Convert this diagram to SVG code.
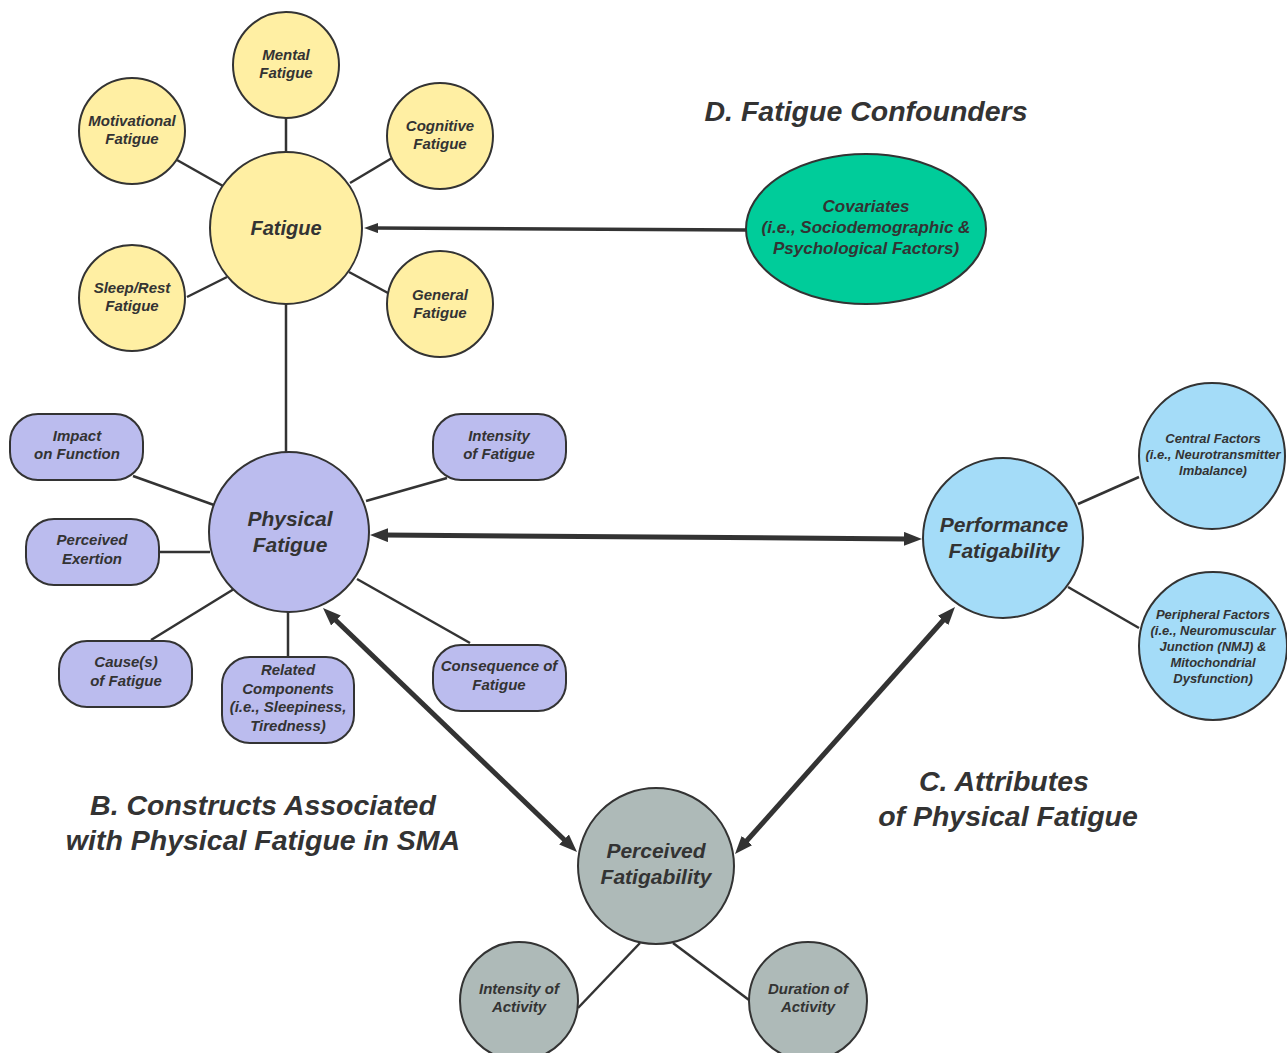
<svg xmlns="http://www.w3.org/2000/svg" width="1287" height="1053" viewBox="0 0 1287 1053">
<defs>
<style>
.nd{stroke:#333;stroke-width:2}
.y{fill:#FFEFA3}.p{fill:#BBBCEE}.b{fill:#A4DCF8}.g{fill:#AEBAB8}.t{fill:#00CC9A}
text{font-family:"Liberation Sans",Arial,sans-serif;font-weight:bold;font-style:italic;fill:#333;text-anchor:middle;dominant-baseline:central}
.s{font-size:15px}.l{font-size:21px}.xs{font-size:13px}.h{font-size:28.5px}.c{font-size:17px}
.ln{stroke:#333;stroke-width:2.5;fill:none}
.ar{stroke:#333;stroke-width:5;fill:none}
</style>
<marker id="ah" markerUnits="userSpaceOnUse" viewBox="0 0 18 14" markerWidth="18" markerHeight="14" refX="4" refY="7" orient="auto-start-reverse"><path d="M0,0 L18,7 L0,14 z" fill="#333"/></marker>
<marker id="ahs" markerUnits="userSpaceOnUse" viewBox="0 0 14 10" markerWidth="14" markerHeight="10" refX="3" refY="5" orient="auto-start-reverse"><path d="M0,0 L14,5 L0,10 z" fill="#333"/></marker>
</defs>
<rect width="1287" height="1053" fill="#fff"/>

<g id="connectors">
<line class="ln" x1="286" y1="117" x2="286" y2="152"/>
<line class="ln" x1="177" y1="160" x2="223" y2="186"/>
<line class="ln" x1="350" y1="183" x2="392" y2="158"/>
<line class="ln" x1="187" y1="297" x2="227" y2="277"/>
<line class="ln" x1="349" y1="272" x2="388" y2="293"/>
<line class="ln" x1="286" y1="304" x2="286" y2="452"/>
<line class="ln" x1="133" y1="476" x2="214" y2="505"/>
<line class="ln" x1="447" y1="478" x2="366" y2="501"/>
<line class="ln" x1="159" y1="552" x2="210" y2="552"/>
<line class="ln" x1="151" y1="640" x2="234" y2="589"/>
<line class="ln" x1="288" y1="657" x2="288" y2="612"/>
<line class="ln" x1="470" y1="643" x2="357" y2="579"/>
<line class="ln" x1="1078" y1="504" x2="1139" y2="477"/>
<line class="ln" x1="1068" y1="587" x2="1139" y2="628"/>
<line class="ln" x1="640" y1="943" x2="578" y2="1008"/>
<line class="ln" x1="673" y1="943" x2="749" y2="1000"/>
<line stroke="#333" stroke-width="3.5" x1="746" y1="230" x2="375" y2="228.1" marker-end="url(#ahs)"/>
<line class="ar" x1="384" y1="535.1" x2="908" y2="538.9" marker-start="url(#ah)" marker-end="url(#ah)"/>
<line class="ar" x1="333.1" y1="617.7" x2="566.9" y2="842.3" marker-start="url(#ah)" marker-end="url(#ah)"/>
<line class="ar" x1="945.7" y1="617.5" x2="744.3" y2="843.5" marker-start="url(#ah)" marker-end="url(#ah)"/>
</g>

<g id="title-d"><text class="h" x="866" y="111">D. Fatigue Confounders</text></g>
<g id="title-b"><text class="h" x="263" y="805">B. Constructs Associated</text><text class="h" x="263" y="840">with Physical Fatigue in SMA</text></g>
<g id="title-c"><text class="h" x="1004" y="781">C. Attributes</text><text class="h" x="1008" y="816">of Physical Fatigue</text></g>

<g id="fatigue"><circle class="nd y" cx="286" cy="228" r="76"/><text x="286" y="228" style="font-size:20px">Fatigue</text></g>
<g id="mental"><circle class="nd y" cx="286" cy="65" r="53"/><text class="s" x="286" y="54">Mental</text><text class="s" x="286" y="72">Fatigue</text></g>
<g id="motivational"><circle class="nd y" cx="132" cy="131" r="53"/><text class="s" x="132" y="120">Motivational</text><text class="s" x="132" y="138">Fatigue</text></g>
<g id="cognitive"><circle class="nd y" cx="440" cy="136" r="53"/><text class="s" x="440" y="125">Cognitive</text><text class="s" x="440" y="143">Fatigue</text></g>
<g id="sleep"><circle class="nd y" cx="132" cy="298" r="53"/><text class="s" x="132" y="287">Sleep/Rest</text><text class="s" x="132" y="305">Fatigue</text></g>
<g id="general"><circle class="nd y" cx="440" cy="304" r="53"/><text class="s" x="440" y="294">General</text><text class="s" x="440" y="312">Fatigue</text></g>

<g id="covariates"><ellipse class="nd t" cx="866" cy="229" rx="120" ry="75"/><text class="c" x="866" y="206">Covariates</text><text class="c" x="866" y="227">(i.e., Sociodemographic &amp;</text><text class="c" x="866" y="248">Psychological Factors)</text></g>

<g id="physical"><circle class="nd p" cx="289" cy="532" r="80"/><text class="l" x="290" y="518">Physical</text><text class="l" x="290" y="544">Fatigue</text></g>
<g id="impact"><rect class="nd p" x="10" y="414" width="133" height="66" rx="28"/><text class="s" x="77" y="435">Impact</text><text class="s" x="77" y="453">on Function</text></g>
<g id="intensity-fatigue"><rect class="nd p" x="433" y="414" width="133" height="66" rx="28"/><text class="s" x="499" y="435">Intensity</text><text class="s" x="499" y="453">of Fatigue</text></g>
<g id="exertion"><rect class="nd p" x="26" y="519" width="133" height="66" rx="28"/><text class="s" x="92" y="539">Perceived</text><text class="s" x="92" y="558">Exertion</text></g>
<g id="causes"><rect class="nd p" x="59" y="641" width="133" height="66" rx="28"/><text class="s" x="126" y="661">Cause(s)</text><text class="s" x="126" y="680">of Fatigue</text></g>
<g id="related"><rect class="nd p" x="222" y="657" width="132" height="86" rx="28"/><text class="s" x="288" y="669">Related</text><text class="s" x="288" y="688">Components</text><text class="s" x="288" y="706">(i.e., Sleepiness,</text><text class="s" x="288" y="725">Tiredness)</text></g>
<g id="consequence"><rect class="nd p" x="433" y="645" width="133" height="66" rx="28"/><text class="s" x="499" y="665">Consequence of</text><text class="s" x="499" y="684">Fatigue</text></g>

<g id="performance"><circle class="nd b" cx="1003" cy="538" r="80"/><text class="l" x="1004" y="524">Performance</text><text class="l" x="1004" y="550">Fatigability</text></g>
<g id="central"><circle class="nd b" cx="1212" cy="456" r="73"/><text class="xs" x="1213" y="438">Central Factors</text><text class="xs" x="1213" y="454">(i.e., Neurotransmitter</text><text class="xs" x="1213" y="470">Imbalance)</text></g>
<g id="peripheral"><circle class="nd b" cx="1213" cy="646" r="74"/><text class="xs" x="1213" y="614">Peripheral Factors</text><text class="xs" x="1213" y="630">(i.e., Neuromuscular</text><text class="xs" x="1213" y="646">Junction (NMJ) &amp;</text><text class="xs" x="1213" y="662">Mitochondrial</text><text class="xs" x="1213" y="678">Dysfunction)</text></g>

<g id="perceived"><circle class="nd g" cx="656" cy="866" r="78"/><text class="l" x="656" y="850">Perceived</text><text class="l" x="656" y="876">Fatigability</text></g>
<g id="intensity-activity"><circle class="nd g" cx="519" cy="1001" r="59"/><text class="s" x="519" y="988">Intensity of</text><text class="s" x="519" y="1006">Activity</text></g>
<g id="duration-activity"><circle class="nd g" cx="808" cy="1001" r="59"/><text class="s" x="808" y="988">Duration of</text><text class="s" x="808" y="1006">Activity</text></g>
</svg>
